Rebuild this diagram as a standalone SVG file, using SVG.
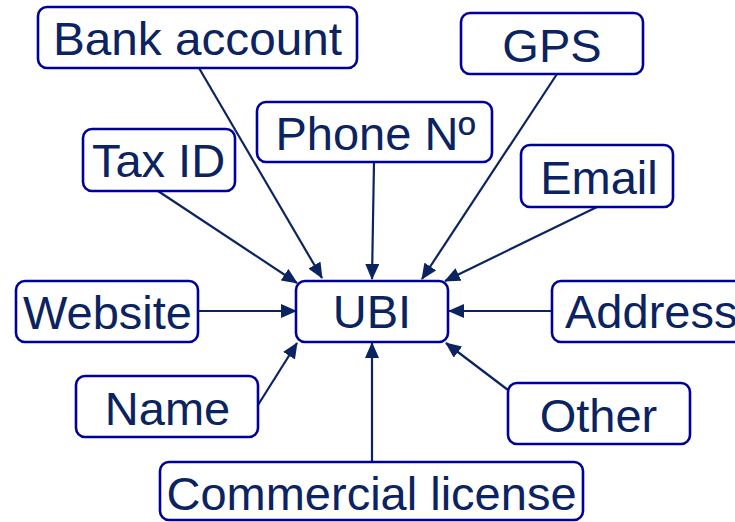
<svg xmlns="http://www.w3.org/2000/svg" width="735" height="522" viewBox="0 0 735 522">
<defs>
<marker id="ah" markerUnits="userSpaceOnUse" markerWidth="16" markerHeight="14" refX="15" refY="7" orient="auto">
<path d="M0,0 L16,7 L0,14 Z" fill="#0b2360"/>
</marker>
<style>
.box{fill:#ffffff;stroke:#00009a;stroke-width:2.6}
.lbl{font-family:"Liberation Sans",Arial,sans-serif;font-size:47px;fill:#0b2360;text-anchor:middle}
.con{stroke:#0b2360;stroke-width:2.2;fill:none;marker-end:url(#ah)}
</style>
</defs>
<rect width="735" height="522" fill="#ffffff"/>
<g id="connectors">
<line class="con" x1="199" y1="68" x2="322" y2="278"/>
<line class="con" x1="158" y1="191" x2="297" y2="283"/>
<line class="con" x1="374" y1="162" x2="372" y2="279"/>
<line class="con" x1="557" y1="74" x2="422" y2="279"/>
<line class="con" x1="597" y1="207" x2="445" y2="281"/>
<line class="con" x1="198" y1="311" x2="296" y2="311"/>
<line class="con" x1="552" y1="311" x2="449" y2="311"/>
<line class="con" x1="258" y1="405" x2="297" y2="343"/>
<line class="con" x1="508" y1="390" x2="446" y2="343"/>
<line class="con" x1="372" y1="462" x2="372" y2="343"/>
</g>
<g id="bank-account"><rect class="box" x="38" y="7" width="319" height="61" rx="9"/><text class="lbl" x="197.5" y="55" font-size="43" textLength="289" lengthAdjust="spacingAndGlyphs">Bank account</text></g>
<g id="gps"><rect class="box" x="461" y="13" width="182" height="61" rx="9"/><text class="lbl" x="552" y="62">GPS</text></g>
<g id="phone"><rect class="box" x="257" y="102" width="235" height="60" rx="9"/><text class="lbl" x="375.5" y="150" font-size="49">Phone Nº</text></g>
<g id="tax-id"><rect class="box" x="83" y="129" width="152" height="62" rx="9"/><text class="lbl" x="158.5" y="177" font-size="48">Tax ID</text></g>
<g id="email"><rect class="box" x="521" y="145" width="152" height="62" rx="9"/><text class="lbl" x="599" y="194" font-size="46.5">Email</text></g>
<g id="website"><rect class="box" x="16" y="281" width="182" height="61" rx="9"/><text class="lbl" x="107.5" y="329" font-size="48">Website</text></g>
<g id="ubi"><rect class="box" x="296" y="281" width="152" height="61" rx="9"/><text class="lbl" x="372" y="328" font-size="46">UBI</text></g>
<g id="address"><rect class="box" x="552" y="281" width="200" height="61" rx="9"/><text class="lbl" x="565" y="328" style="text-anchor:start">Address</text></g>
<g id="name"><rect class="box" x="76" y="376" width="182" height="61" rx="9"/><text class="lbl" x="167.5" y="425" font-size="47.5">Name</text></g>
<g id="other"><rect class="box" x="508" y="383" width="182" height="61" rx="9"/><text class="lbl" x="598.5" y="432">Other</text></g>
<g id="commercial-license"><rect class="box" x="160" y="462" width="423" height="58" rx="9"/><text class="lbl" x="371.5" y="510" font-size="48.5">Commercial license</text></g>
</svg>
